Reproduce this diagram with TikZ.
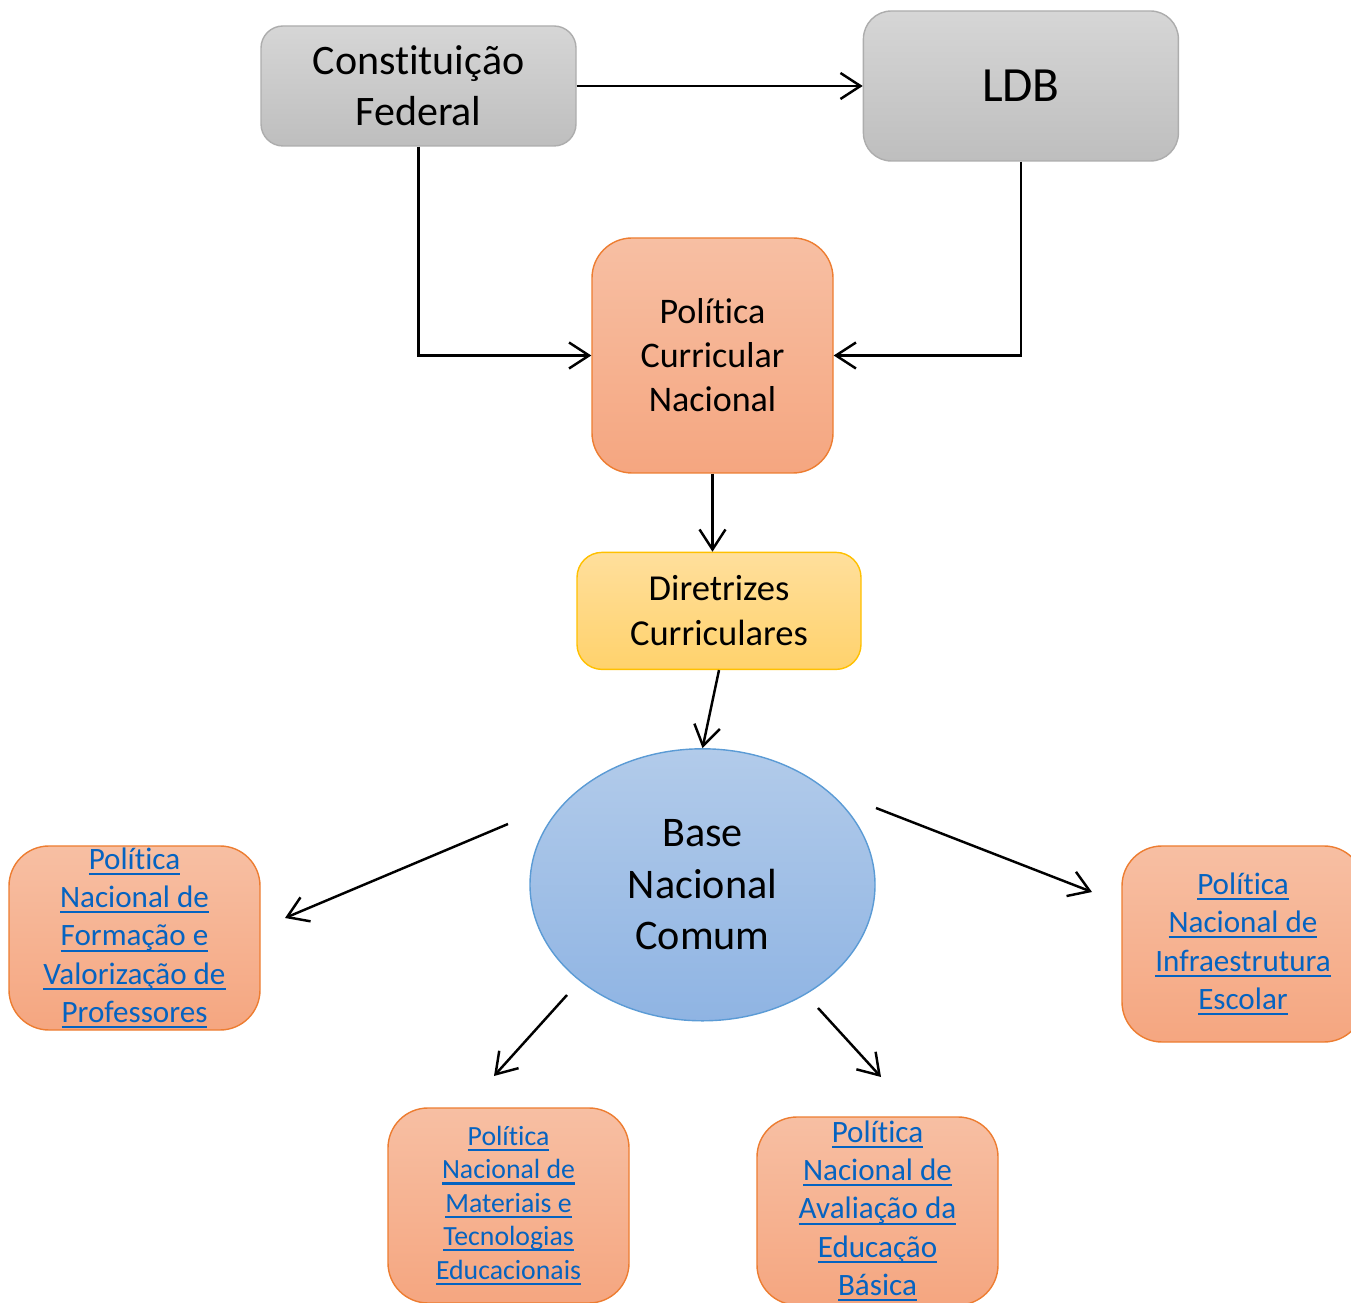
\documentclass[tikz,border=0pt]{standalone}
\usepackage{fontspec}
\setmainfont{Carlito}[Ligatures={NoCommon,NoContextual}]
\usepackage{tikz}
\usetikzlibrary{arrows.meta,positioning,shapes.geometric,calc}

\definecolor{grayTop}{HTML}{D6D6D6}
\definecolor{grayBot}{HTML}{BEBEBE}
\definecolor{grayLine}{HTML}{ADADAD}
\definecolor{orTop}{HTML}{F7BFA3}
\definecolor{orBot}{HTML}{F5A680}
\definecolor{orLine}{HTML}{ED7D31}
\definecolor{yeTop}{HTML}{FFDF9C}
\definecolor{yeBot}{HTML}{FFD26C}
\definecolor{yeLine}{HTML}{FFC000}
\definecolor{blTop}{HTML}{B2CBEA}
\definecolor{blBot}{HTML}{8FB4E3}
\definecolor{blLine}{HTML}{5B9BD5}
\definecolor{linkblue}{HTML}{0563C1}

% underlined link text
\newsavebox{\lnkbox}
\newcommand{\lnk}[1]{\sbox{\lnkbox}{#1}\rlap{\rule[-1.6pt]{\wd\lnkbox}{0.6pt}}\usebox{\lnkbox}}

\begin{document}
\begin{tikzpicture}[
    grey/.style={rectangle, draw=grayLine, top color=grayTop, bottom color=grayBot, rounded corners=0.22cm, align=center},
    orange/.style={rectangle, draw=orLine, top color=orTop, bottom color=orBot, rounded corners=0.4cm, align=center},
    link/.style={orange, text=linkblue, inner ysep=0pt, font=\fontsize{8.85}{10.9}\selectfont},
    arr/.style={-{Straight Barb[length=2mm,width=2.6mm]}, line width=0.7pt}
]
\useasboundingbox (0,0) rectangle (13.51,-13.03);
\clip (0,0) rectangle (13.51,-13.03);

% Top row
\node[grey, minimum width=3.15cm, minimum height=1.2cm, font=\fontsize{11.95}{14.5}\selectfont] (cf) at (4.185,-0.86) {Constituição\\Federal};
\node[grey, rounded corners=0.28cm, minimum width=3.15cm, minimum height=1.5cm, font=\fontsize{14}{17}\selectfont, right=2.86cm of cf] (ldb) {LDB};

% Middle chain
\node[orange, minimum width=2.41cm, minimum height=2.35cm, font=\fontsize{10.25}{12.5}\selectfont] (pcn) at (7.125,-3.555) {Política\\Curricular\\Nacional};
\node[rectangle, draw=yeLine, top color=yeTop, bottom color=yeBot, rounded corners=0.25cm, align=center, minimum width=2.84cm, minimum height=1.17cm, font=\fontsize{10.4}{12.8}\selectfont, below=0.78cm of pcn, xshift=0.65mm] (dir) {Diretrizes\\Curriculares};
\node[ellipse, draw=blLine, top color=blTop, bottom color=blBot, align=center, minimum width=3.45cm, minimum height=2.72cm, inner sep=0pt, font=\fontsize{12}{14.65}\selectfont, below=0.78cm of dir, xshift=-1.65mm] (bnc) {Base\\Nacional\\Comum};

% Linked policies
\node[link, minimum width=2.51cm, minimum height=1.84cm] (pnfv) at (1.345,-9.38) {\lnk{Política}\\\lnk{Nacional de}\\\lnk{Formação e}\\\lnk{Valorização de}\\\lnk{Professores}};
\node[link, minimum width=2.42cm, minimum height=1.96cm] (pnie) at (12.43,-9.44) {\lnk{Política}\\\lnk{Nacional de}\\\lnk{Infraestrutura}\\\lnk{Escolar}};
\node[link, minimum width=2.41cm, minimum height=1.95cm, font=\fontsize{7.9}{9.5}\selectfont] (pnmt) at (5.085,-12.055) {\lnk{Política}\\\lnk{Nacional de}\\\lnk{Materiais e}\\\lnk{Tecnologias}\\\lnk{Educacionais}};
\node[link, minimum width=2.41cm, minimum height=1.88cm] (pnaeb) at (8.775,-12.11) {\lnk{Política}\\\lnk{Nacional de}\\\lnk{Avaliação da}\\\lnk{Educação}\\\lnk{Básica}};

% Free arrow ends around the base
\coordinate (l1) at (5.08,-8.24);
\coordinate (l2) at (2.85,-9.18);
\coordinate (r1) at (8.76,-8.08);
\coordinate (r2) at (10.92,-8.92);
\coordinate (bl1) at (5.67,-9.95);
\coordinate (bl2) at (4.94,-10.76);
\coordinate (br1) at (8.18,-10.08);
\coordinate (br2) at (8.81,-10.77);

\draw[arr] (cf) -- (ldb);
\draw[arr] (cf.south) |- (pcn.west);
\draw[arr] (ldb.south) |- (pcn.east);
\draw[arr] (pcn.south) -- (pcn.south |- dir.north);
\draw[arr] (dir.south) -- (bnc.north);

\draw[arr] (l1) -- (l2);
\draw[arr] (r1) -- (r2);
\draw[arr] (bl1) -- (bl2);
\draw[arr] (br1) -- (br2);
\end{tikzpicture}
\end{document}
